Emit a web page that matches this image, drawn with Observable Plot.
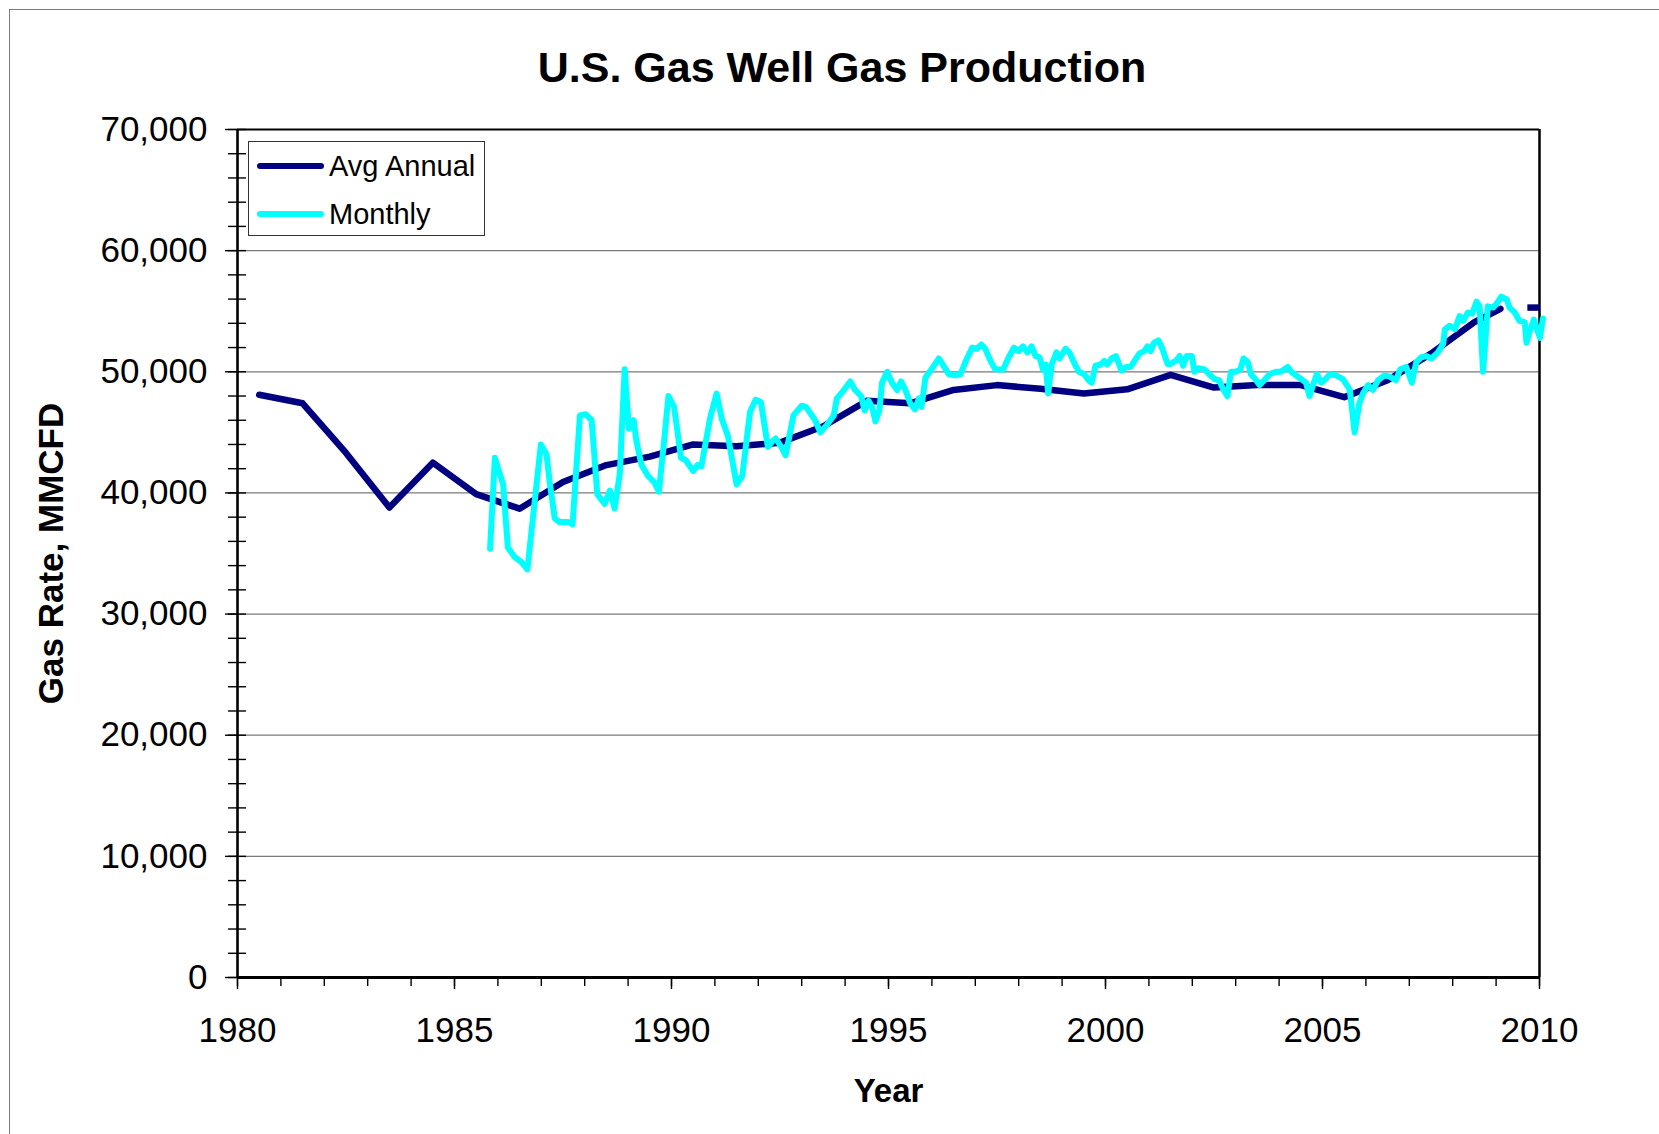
<!DOCTYPE html>
<html>
<head>
<meta charset="utf-8">
<script src="https://cdn.jsdelivr.net/npm/d3@7"></script>
<script src="https://cdn.jsdelivr.net/npm/@observablehq/plot@0.6"></script>
<style>
  html, body { margin: 0; padding: 0; background: #fff; overflow: hidden; }
  body { font-family: "Liberation Sans", Arial, sans-serif; color: #000; }
  #wrap { position: relative; width: 1659px; height: 1134px; overflow: hidden; }
  #border { position: absolute; left: 9px; top: 9px; width: 1700px; height: 1200px; border: 1px solid #7a7a7a; box-sizing: border-box; pointer-events: none; }
  #title { height: 100px; box-sizing: border-box; padding-top: 46px; font-size: 43px; line-height: 43px; font-weight: bold; text-align: center; padding-left: 25px; width: 1659px; }
  #legend { position: absolute; left: 248px; top: 141px; width: 237px; height: 95px; box-sizing: border-box; border: 1px solid #333; background: #fff; }
  #legend .row { position: absolute; left: 8px; height: 32px; display: flex; align-items: center; font-size: 29px; }
  #legend .sw { display: inline-block; width: 67px; height: 6px; border-radius: 3px; margin-right: 5px; }
</style>
</head>
<body>
<div id="wrap">
  <div id="title">U.S. Gas Well Gas Production</div>
  <div id="chart"></div>
  <div id="legend"></div>
  <div id="border"></div>
</div>
<script>
// ---- Data ----
const seriesNames = ["Avg Annual", "Monthly"];
const seriesColors = ["#000080", "#00FFFF"];

const annualYears = [1980.5, 1981.5, 1982.5, 1983.5, 1984.5, 1985.5, 1986.5, 1987.5, 1988.5, 1989.5,
  1990.5, 1991.5, 1992.5, 1993.5, 1994.5, 1995.5, 1996.5, 1997.5, 1998.5, 1999.5,
  2000.5, 2001.5, 2002.5, 2003.5, 2004.5, 2005.5, 2006.5, 2007.5, 2008.5, 2009.1];
const annualValues = [48100, 47400, 43300, 38800, 42500, 39900, 38700, 40900, 42300, 43000,
  44000, 43850, 44150, 45500, 47600, 47400, 48500, 48900, 48600, 48200,
  48550, 49750, 48700, 48900, 48900, 47900, 49300, 51500, 54100, 55200];

// short separate annual segment at the right edge
const lastAnnualYears = [2009.72, 2010.0];
const lastAnnualValues = [55300, 55300];

const monthlyYears = [
  1985.82, 1985.93, 1986.12, 1986.23, 1986.39, 1986.54, 1986.68, 1986.89, 1986.99, 1987.12,
  1987.19, 1987.31, 1987.42, 1987.62, 1987.72, 1987.89, 1988.02, 1988.16, 1988.29, 1988.46,
  1988.58, 1988.69, 1988.81, 1988.92, 1989.02, 1989.13, 1989.19, 1989.31, 1989.46, 1989.60,
  1989.71, 1989.83, 1989.93, 1990.06, 1990.22, 1990.33, 1990.50, 1990.60, 1990.69, 1990.89,
  1991.04, 1991.16, 1991.30, 1991.50, 1991.63, 1991.81, 1991.94, 1992.06, 1992.16, 1992.22,
  1992.31, 1992.40, 1992.53, 1992.63, 1992.81, 1993.00, 1993.10, 1993.31, 1993.43, 1993.58,
  1993.74, 1993.81, 1993.93, 1994.12, 1994.23, 1994.37, 1994.45, 1994.54, 1994.62, 1994.70,
  1994.79, 1994.85, 1994.97, 1995.08, 1995.20, 1995.29, 1995.39, 1995.50, 1995.61, 1995.70,
  1995.76, 1995.85, 1995.97, 1996.16, 1996.39, 1996.54, 1996.66, 1996.77, 1996.93, 1997.04,
  1997.14, 1997.23, 1997.35, 1997.46, 1997.64, 1997.77, 1997.89, 1998.00, 1998.10, 1998.20,
  1998.30, 1998.39, 1998.48, 1998.56, 1998.62, 1998.68, 1998.76, 1998.87, 1998.94, 1999.08,
  1999.17, 1999.31, 1999.39, 1999.51, 1999.61, 1999.68, 1999.77, 1999.89, 1999.97, 2000.04,
  2000.14, 2000.24, 2000.37, 2000.48, 2000.58, 2000.78, 2000.89, 2000.97, 2001.04, 2001.12,
  2001.22, 2001.31, 2001.43, 2001.50, 2001.62, 2001.71, 2001.79, 2001.87, 2001.99, 2002.05,
  2002.14, 2002.28, 2002.39, 2002.51, 2002.62, 2002.72, 2002.81, 2002.89, 2003.00, 2003.11,
  2003.18, 2003.28, 2003.35, 2003.45, 2003.55, 2003.66, 2003.78, 2003.93, 2004.04, 2004.20,
  2004.28, 2004.39, 2004.51, 2004.62, 2004.70, 2004.79, 2004.87, 2004.97, 2005.07, 2005.17,
  2005.31, 2005.47, 2005.58, 2005.63, 2005.74, 2005.85, 2005.93, 2006.05, 2006.16, 2006.28,
  2006.43, 2006.55, 2006.69, 2006.79, 2006.93, 2007.06, 2007.16, 2007.28, 2007.39, 2007.51,
  2007.66, 2007.78, 2007.82, 2007.93, 2008.05, 2008.16, 2008.24, 2008.35, 2008.45, 2008.55,
  2008.62, 2008.70, 2008.81, 2008.93, 2009.01, 2009.12, 2009.24, 2009.31, 2009.43, 2009.54,
  2009.66, 2009.70, 2009.78, 2009.87, 2010.01, 2010.08];
const monthlyValues = [
  35400, 42900, 40700, 35500, 34700, 34300, 33700, 40700, 44000, 43200,
  41000, 37900, 37600, 37600, 37400, 46400, 46500, 46000, 39900, 39100,
  40200, 38700, 41600, 50200, 45300, 46000, 44300, 42300, 41400, 40900,
  40100, 44300, 48000, 47100, 42900, 42700, 41800, 42300, 42200, 46200,
  48200, 46100, 44700, 40700, 41400, 46700, 47700, 47500, 45200, 43800,
  44200, 44500, 43800, 43100, 46400, 47200, 47100, 46000, 45000, 45600,
  46400, 47800, 48300, 49200, 48500, 48000, 46800, 47600, 47100, 45900,
  46800, 49100, 50000, 49100, 48500, 49200, 48500, 47400, 46900, 47800,
  47100, 49500, 50100, 51100, 49800, 49700, 49800, 50800, 52000, 51900,
  52250, 51900, 50900, 50200, 50160, 51200, 52000, 51700, 52100, 51600,
  52100, 51300, 51200, 50200, 50600, 48200, 50600, 51600, 51100, 51900,
  51600, 50500, 50000, 49800, 49300, 49100, 50500, 50600, 50900, 50600,
  51100, 51300, 50100, 50400, 50400, 51500, 51700, 52100, 51700, 52400,
  52600, 51900, 50650, 50650, 50900, 51300, 50500, 51300, 51300, 50000,
  50300, 50200, 49800, 49400, 49300, 48500, 48000, 50000, 50000, 50200,
  51100, 50800, 49800, 49400, 48900, 49300, 49800, 50000, 50000, 50400,
  50000, 49700, 49400, 49100, 48000, 49000, 49800, 49100, 49400, 49800,
  49700, 49400, 48800, 48500, 45000, 47400, 48200, 48900, 48500, 49300,
  49700, 49600, 49300, 50200, 50400, 49100, 50800, 51200, 51300, 51100,
  51600, 52300, 53500, 53800, 53500, 54600, 54200, 54900, 54800, 55800,
  55400, 50000, 55400, 55300, 55600, 56200, 56000, 55300, 54900, 54200,
  54100, 52400, 53400, 54300, 52800, 54400];

const xMajorTicks = [1980, 1985, 1990, 1995, 2000, 2005, 2010];
const xMinorTicks = d3.range(1980, 2011, 1);
const yMajorTicks = [0, 10000, 20000, 30000, 40000, 50000, 60000, 70000];
const yMinorTicks = d3.range(0, 70001, 2000);
const gridValues = [10000, 20000, 30000, 40000, 50000, 60000];

const annual = annualYears.map((x, i) => ({x, y: annualValues[i]}));
const lastAnnual = lastAnnualYears.map((x, i) => ({x, y: lastAnnualValues[i]}));
const monthly = monthlyYears.map((x, i) => ({x, y: monthlyValues[i]}));

const fmt = d3.format(",");

const chart = Plot.plot({
  width: 1659,
  height: 1034,
  marginTop: 29,
  marginBottom: 157,
  marginLeft: 237,
  marginRight: 120,
  style: { fontFamily: "Liberation Sans, Arial, sans-serif", fontSize: "35px", color: "#000", background: "transparent", overflow: "visible" },
  x: { domain: [1980, 2010] },
  y: { domain: [0, 70000] },
  marks: [
    Plot.ruleY(gridValues, { stroke: "#7a7a7a", strokeWidth: 1.3 }),
    Plot.ruleY([70000], { stroke: "#000", strokeWidth: 2.2 }),
    Plot.ruleX([2010], { stroke: "#000", strokeWidth: 2.5 }),
    Plot.axisY({ ticks: yMinorTicks, tickSize: 18, dx: 9, tickFormat: () => "", label: null, strokeWidth: 1.4 }),
    Plot.axisY({ ticks: yMajorTicks, tickSize: 12, tickPadding: 18, tickFormat: fmt, fontSize: 35, label: null, strokeWidth: 1.4 }),
    Plot.axisX({ ticks: xMinorTicks, tickSize: 9, tickFormat: () => "", label: null, strokeWidth: 1.4 }),
    Plot.axisX({ ticks: xMajorTicks, tickSize: 12, tickPadding: 28, tickFormat: d => String(d), fontSize: 35, label: null, strokeWidth: 1.4 }),
    Plot.ruleX([1980], { stroke: "#000", strokeWidth: 2.6 }),
    Plot.ruleY([0], { stroke: "#000", strokeWidth: 2.8 }),
    Plot.line(annual, { x: "x", y: "y", stroke: seriesColors[0], strokeWidth: 6.5, strokeLinejoin: "round", strokeLinecap: "round" }),
    Plot.line(lastAnnual, { x: "x", y: "y", stroke: seriesColors[0], strokeWidth: 6.5, strokeLinecap: "butt" }),
    Plot.line(monthly, { x: "x", y: "y", stroke: seriesColors[1], strokeWidth: 6, strokeLinejoin: "round", strokeLinecap: "round" }),
    Plot.text(["Gas Rate, MMCFD"], { frameAnchor: "left", rotate: -90, dx: -186, textAnchor: "middle", lineAnchor: "middle", fontSize: 35, fontWeight: "bold", fill: "#000" }),
    Plot.text(["Year"], { frameAnchor: "bottom", dy: 114, textAnchor: "middle", lineAnchor: "middle", fontSize: 33, fontWeight: "bold", fill: "#000" })
  ]
});
document.getElementById("chart").appendChild(chart);

// Legend (HTML overlay)
const legend = document.getElementById("legend");
const rowTops = [8, 56];
seriesNames.forEach((name, i) => {
  const row = document.createElement("div");
  row.className = "row";
  row.style.top = rowTops[i] + "px";
  const sw = document.createElement("span");
  sw.className = "sw";
  sw.style.background = seriesColors[i];
  const label = document.createElement("span");
  label.textContent = name;
  row.appendChild(sw);
  row.appendChild(label);
  legend.appendChild(row);
});
</script>
</body>
</html>
